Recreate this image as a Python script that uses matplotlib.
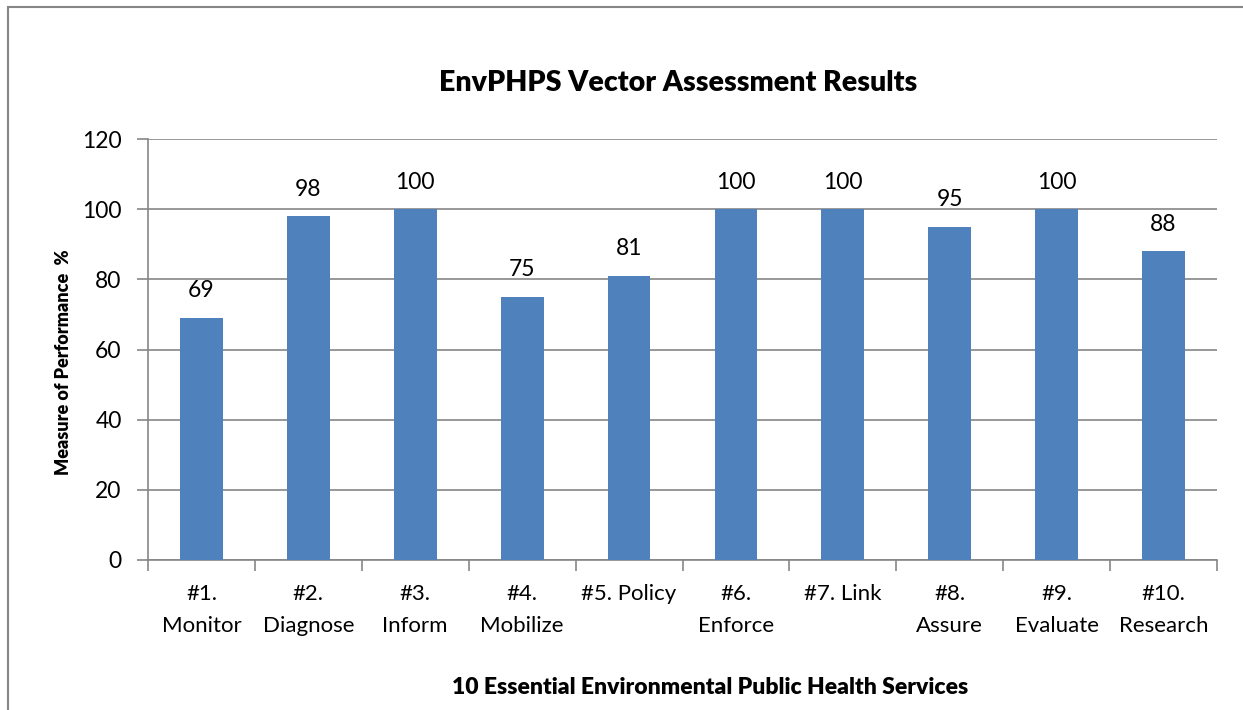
import matplotlib
matplotlib.use("Agg")
import matplotlib.pyplot as plt
from matplotlib.patches import Rectangle

plt.rcParams['font.family'] = ['Lato', 'DejaVu Sans']

# chart data
categories = ['#1.\nMonitor', '#2.\nDiagnose', '#3.\nInform', '#4.\nMobilize', '#5. Policy',
              '#6.\nEnforce', '#7. Link', '#8.\nAssure', '#9.\nEvaluate', '#10.\nResearch']
scores = [69, 98, 100, 75, 81, 100, 100, 95, 100, 88]
y_ticks = [0, 20, 40, 60, 80, 100, 120]

bar_color = '#4f81bd'
grid_color = '#868686'

fig = plt.figure(figsize=(12.43, 7.10), dpi=100)
ax = fig.add_axes([148 / 1243, 1 - 560 / 710, (1217 - 148) / 1243, (560 - 139) / 710])

x = list(range(len(categories)))
ax.bar(x, scores, width=0.40, color=bar_color, zorder=3)

for xi, v in zip(x, scores):
    ax.text(xi, v + 7.7, str(v), ha='center', va='center', fontsize=16.5)

ax.set_xlim(-0.5, len(categories) - 0.5)
ax.set_ylim(0, 120)
ax.set_yticks(y_ticks)
ax.tick_params(axis='y', labelsize=16.5, length=8, color=grid_color, width=1.2, pad=11)
ax.yaxis.grid(True, color=grid_color, linewidth=1.2, zorder=0)

# category boundaries as tick marks
ax.set_xticks([i - 0.5 for i in range(len(categories) + 1)], minor=False)
ax.set_xticklabels([])
ax.set_xticks(x, minor=True)
ax.set_xticklabels(categories, minor=True, fontsize=16, linespacing=1.8)
ax.tick_params(axis='x', which='major', length=8, color=grid_color, width=1.2)
ax.tick_params(axis='x', which='minor', length=0, pad=17)

for side in ['top', 'right']:
    ax.spines[side].set_visible(False)
for side in ['left', 'bottom']:
    ax.spines[side].set_color(grid_color)
    ax.spines[side].set_linewidth(1.2)

ax.set_ylabel('Measure of Performance  %', fontsize=13, fontweight='heavy')
ax.yaxis.set_label_coords(-0.071, 0.471)
ax.set_xlabel('10 Essential Environmental Public Health Services', fontsize=16.5,
              fontweight='heavy', va='center')
ax.xaxis.set_label_coords(0.526, -0.302)
fig.text(678 / 1243, 1 - 83 / 710, 'EnvPHPS Vector Assessment Results', ha='center',
         va='center', fontsize=20.5, fontweight='heavy')

# outer chart border
fig.patches.append(Rectangle((8 / 1243, -0.05), 1.1, 1 - 7 / 710 + 0.05,
                             transform=fig.transFigure, fill=False,
                             edgecolor=grid_color, linewidth=1.5))

fig.savefig('out.png', dpi=100)
